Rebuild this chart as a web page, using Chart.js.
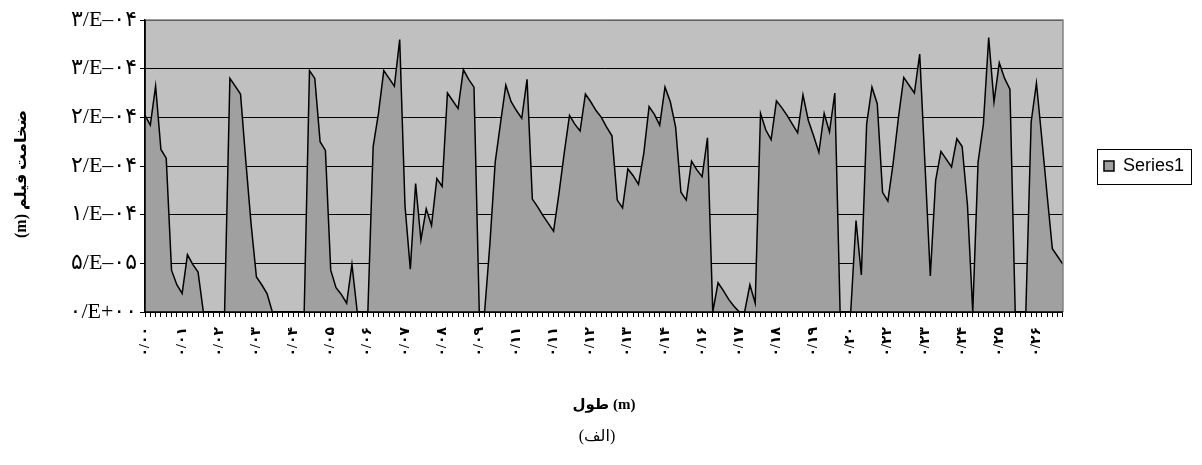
<!DOCTYPE html>
<html>
<head>
<meta charset="utf-8">
<script src="https://cdn.jsdelivr.net/npm/chart.js@4/dist/chart.umd.min.js"></script>
<style>
html,body{margin:0;padding:0;background:#fff;}
#wrap{width:1202px;height:465px;position:relative;}
</style>
</head>
<body>
<div id="wrap"><canvas id="c" width="1202" height="465"></canvas></div>
<script>
// ---- data ----
const xLabelStep = 7;
const xTickLabels = ['۰/۰۰','۰/۰۱','۰/۰۲','۰/۰۳','۰/۰۴','۰/۰۵','۰/۰۶','۰/۰۷','۰/۰۸','۰/۰۹',
  '۰/۱۱','۰/۱۱','۰/۱۲','۰/۱۳','۰/۱۴','۰/۱۶','۰/۱۷','۰/۱۸','۰/۱۹','۰/۲۰',
  '۰/۲۲','۰/۲۳','۰/۲۴','۰/۲۵','۰/۲۶'];
// film thickness, in units of 1E-05 m
const thicknessE5 = [
  20.2,19.2,23.2,16.7,15.8,4.3,2.8,1.9,5.9,4.9,
  4.1,0,0,0,0,0,24.0,23.2,22.4,15.5,
  9.0,3.6,2.8,1.9,0,0,0,0,0,0,
  0,24.8,24.0,17.5,16.6,4.3,2.5,1.8,0.9,4.9,
  0,0,0,17.0,20.4,24.8,24.0,23.2,28.0,10.9,
  4.4,13.2,7.4,10.6,8.9,13.7,12.9,22.5,21.7,20.9,
  24.9,23.9,23.1,0,0,7.0,15.4,19.4,23.3,21.6,
  20.7,19.9,23.9,11.6,10.8,9.9,9.1,8.3,12.1,16.3,
  20.2,19.3,18.6,22.4,21.6,20.7,20.0,19.0,18.1,11.5,
  10.7,14.7,14.0,13.1,16.3,21.1,20.3,19.2,23.1,21.6,
  19.0,12.3,11.5,15.5,14.6,13.9,17.9,0,3.0,2.2,
  1.3,0.6,0,0,2.8,0.9,20.4,18.7,17.7,21.7,
  21.0,20.2,19.3,18.4,22.3,19.7,18.1,16.4,20.4,18.5,
  22.5,0,0,0,9.4,3.8,19.3,23.1,21.4,12.3,
  11.4,15.3,20.0,24.1,23.3,22.5,26.5,15.1,3.7,13.5,
  16.5,15.7,14.9,17.8,17.0,11.0,0,15.4,19.3,28.2,
  21.6,25.6,24.0,22.9,0,0,0,19.5,23.5,17.9,
  12.1,6.5,5.7,4.9
];
const yTickLabels = ['۰/E+۰۰','۵/E–۰۵','۱/E–۰۴','۲/E–۰۴','۲/E–۰۴','۳/E–۰۴','۳/E–۰۴'];
const yMax = 3e-4;
const yStep = 5e-5;
const seriesName = 'Series1';
const xTitle = 'طول (m)';
const yTitle = '\u202B\u00A0\u00A0\u00A0\u00A0ضخامت فیلم (m)\u202C';
const chartCaption = '(الف)';

// ---- build ----
const categories = thicknessE5.map((_, i) => (i % xLabelStep === 0 && xTickLabels[i / xLabelStep] !== undefined) ? xTickLabels[i / xLabelStep] : '');
const values = thicknessE5.map(v => v * 1e-5);

const serif = "'Liberation Serif', 'DejaVu Sans', serif";

const plotBg = {
  id: 'plotBg',
  beforeDraw(chart) {
    const {ctx, chartArea: a} = chart;
    ctx.save();
    ctx.fillStyle = '#c0c0c0';
    ctx.fillRect(a.left, a.top, a.right - a.left, a.bottom - a.top);
    ctx.restore();
  }
};
const frame = {
  id: 'frame',
  afterDatasetsDraw(chart) {
    const {ctx, chartArea: a} = chart;
    ctx.save();
    ctx.lineWidth = 1.5;
    ctx.strokeStyle = '#808080';
    ctx.beginPath();
    ctx.moveTo(a.left, a.top); ctx.lineTo(a.right, a.top); ctx.lineTo(a.right, a.bottom);
    ctx.stroke();
    ctx.strokeStyle = '#000';
    ctx.beginPath();
    ctx.moveTo(a.left, a.top); ctx.lineTo(a.left, a.bottom); ctx.lineTo(a.right, a.bottom);
    ctx.stroke();
    ctx.restore();
  },
  afterDraw(chart) {
    const lg = chart.legend;
    if (!lg || !lg.legendHitBoxes || !lg.legendHitBoxes.length) return;
    const hb = lg.legendHitBoxes[0];
    const ctx = chart.ctx;
    ctx.save();
    ctx.strokeStyle = '#000';
    ctx.lineWidth = 1;
    const cy = hb.top + hb.height / 2;
    ctx.strokeRect(Math.round(hb.left - 7) + 0.5, Math.round(cy - 17.5) + 0.5, Math.round(hb.width + 14), 35);
    ctx.restore();
  }
};

new Chart(document.getElementById('c'), {
  type: 'line',
  data: {
    labels: categories,
    datasets: [{
      label: seriesName,
      data: values,
      fill: 'origin',
      backgroundColor: '#a0a0a0',
      borderColor: '#000',
      borderWidth: 1.5,
      pointRadius: 0,
      pointHoverRadius: 0,
      tension: 0
    }]
  },
  options: {
    responsive: false,
    animation: false,
    devicePixelRatio: 1,
    layout: { padding: { left: 0, top: 20, right: 8, bottom: 0 } },
    plugins: {
      tooltip: { enabled: false },
      legend: {
        position: 'right',
        fullSize: false,
        labels: {
          boxWidth: 10, boxHeight: 10, padding: 41, color: '#000',
          font: { family: "'Liberation Sans', Arial, sans-serif", size: 18 }
        }
      },
      title: {
        display: true, position: 'bottom', text: chartCaption, color: '#000',
        font: { family: serif, size: 16, weight: 'normal' },
        padding: { top: 13, bottom: 18.8 }
      }
    },
    scales: {
      x: {
        type: 'category',
        offset: false,
        grid: { drawOnChartArea: false, drawTicks: true, tickLength: 5, color: '#000', lineWidth: 1 },
        border: { display: true, color: '#000', width: 1.5 },
        ticks: {
          autoSkip: false, minRotation: 90, maxRotation: 90, padding: 10, color: '#000',
          font: { family: serif, size: 14, weight: 'bold' }
        },
        title: {
          display: true, text: xTitle, color: '#000',
          font: { family: serif, size: 15, weight: 'bold' },
          padding: { top: 0, bottom: 0 }
        },
        afterFit(s) { s.height = 102; }
      },
      y: {
        min: 0, max: yMax,
        grid: { color: '#000', lineWidth: 1, tickLength: 5 },
        border: { display: true, color: '#000', width: 1.5 },
        ticks: {
          stepSize: yStep, padding: 3, color: '#000',
          font: { family: serif, size: 22 },
          callback: (v, i) => yTickLabels[i]
        },
        title: {
          display: true, text: yTitle, color: '#000',
          font: { family: serif, size: 16, weight: 'bold' },
          padding: { top: 12, bottom: 0 }
        },
        afterFit(s) { s.width = 145; }
      }
    }
  },
  plugins: [plotBg, frame]
});
</script>
</body>
</html>
